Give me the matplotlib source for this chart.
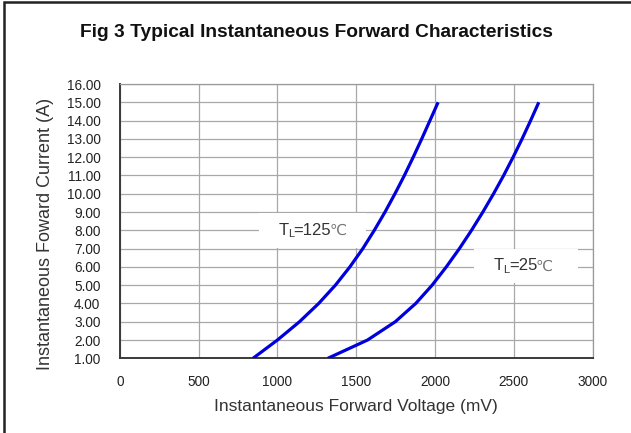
import matplotlib
matplotlib.use("Agg")
import matplotlib.pyplot as plt
from matplotlib.patches import Rectangle

plt.rcParams['font.family'] = ['Liberation Sans', 'DejaVu Sans']

# forward current (A) and voltage (mV)
current = [1, 2, 3, 4, 5, 6, 7, 8, 9, 10, 11, 12, 13, 14, 15]
volt_125 = [845, 1000, 1140, 1262, 1368, 1460, 1542, 1615, 1683, 1746, 1806, 1862, 1916, 1968, 2020]
volt_25 = [1320, 1572, 1748, 1878, 1982, 2072, 2155, 2232, 2304, 2372, 2436, 2496, 2553, 2607, 2659]

x_ticks = [0, 500, 1000, 1500, 2000, 2500, 3000]
y_ticks = list(range(1, 17))

fig = plt.figure(figsize=(6.31, 4.33), dpi=100)
ax = fig.add_axes([0.190, 0.1725, 0.749, 0.6335])

ax.plot(volt_125, current, color="#0000dd", lw=2.3, solid_capstyle="butt", zorder=3)
ax.plot(volt_25, current, color="#0000dd", lw=2.3, solid_capstyle="butt", zorder=3)

ax.set_xlim(0, 3000)
ax.set_ylim(1, 16)
ax.set_xticks(x_ticks)
ax.set_yticks(y_ticks)
ax.set_yticklabels(["%.2f" % v for v in y_ticks])
ax.tick_params(length=0, labelsize=9.8, colors="#222222")
ax.tick_params(axis="y", pad=14)
ax.tick_params(axis="x", pad=12)
ax.grid(True, color="#a8a8a8", lw=0.9)
ax.set_axisbelow(True)

for s in ["top", "right"]:
    ax.spines[s].set_color("#999999")
    ax.spines[s].set_linewidth(0.9)
for s in ["left", "bottom"]:
    ax.spines[s].set_color("#3a3a3a")
    ax.spines[s].set_linewidth(1.4)


def temp_label(x, y, temp, box_w, box_h):
    # white patch behind the label, like in the scan
    ax.add_patch(Rectangle((x - box_w / 2, y - box_h / 2), box_w, box_h,
                           fc="white", ec="none", zorder=2.5))
    t = ax.text(x - box_w / 2 + 125, y, "T", ha="left", va="center",
                fontsize=12, color="#333333", zorder=4)
    sub = ax.annotate("L", xy=(0.88, 0.22), xycoords=t, ha="left", va="center",
                      fontsize=8, color="#333333", zorder=4)
    rest = ax.annotate("=" + temp, xy=(0.95, 0.5), xycoords=(sub, t),
                       ha="left", va="center", fontsize=12, color="#333333", zorder=4)
    ax.annotate("\u2103", xy=(0.96, 0.5), xycoords=(rest, t), ha="left", va="center",
                fontsize=11, color="#777777", family="DejaVu Sans", zorder=4)


temp_label(1225, 8.0, "125", 680, 1.9)
temp_label(2580, 6.05, "25", 660, 1.85)

ax.set_xlabel("Instantaneous Forward Voltage (mV)", fontsize=12.5, color="#333333", labelpad=7)
ax.set_ylabel("Instantaneous Foward Current (A)", fontsize=13, color="#333333")
ax.yaxis.set_label_coords(-0.140, 0.455)

fig.text(0.501, 0.926, "Fig 3 Typical Instantaneous Forward Characteristics",
         ha="center", va="center", fontsize=13.8, fontweight="bold", color="#111111")

# outer frame, cut off at the right and bottom like the scan
fig.patches.append(Rectangle((4 / 631, -0.1), 1.2, 1.1 - 2 / 433, transform=fig.transFigure,
                             fill=False, ec="#222222", lw=1.8))

fig.savefig("out.png", dpi=100)
